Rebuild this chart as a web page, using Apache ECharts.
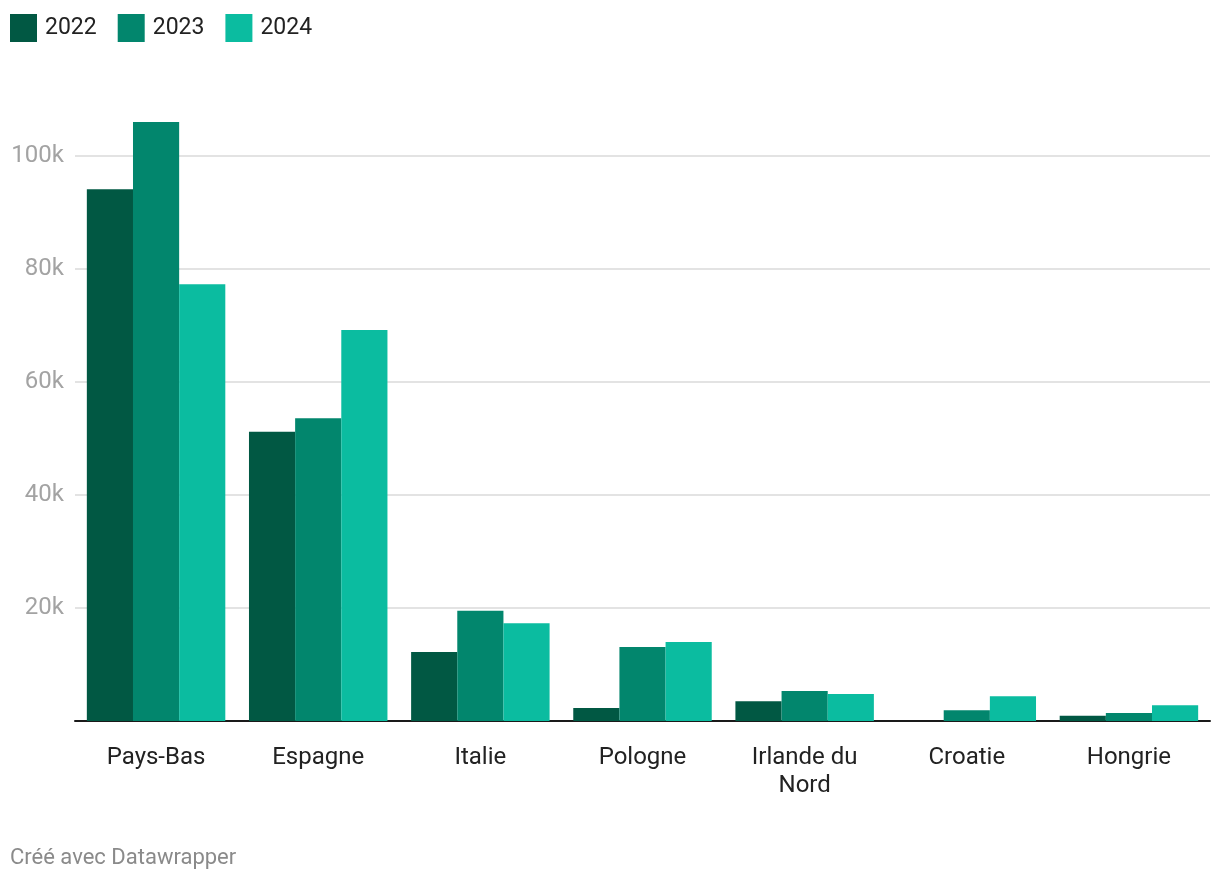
<!DOCTYPE html>
<html>
<head>
<meta charset="utf-8">
<script src="https://cdn.jsdelivr.net/npm/echarts@6/dist/echarts.min.js"></script>
<style>
html,body{margin:0;padding:0;background:#fff;}
#chart{width:1220px;height:882px;}
</style>
</head>
<body>
<div id="chart"></div>
<script>
const categories = ['Pays-Bas', 'Espagne', 'Italie', 'Pologne', 'Irlande du\nNord', 'Croatie', 'Hongrie'];
const years = ['2022', '2023', '2024'];
const values2022 = [94100, 51200, 12200, 2300, 3500, null, 950];
const values2023 = [106000, 53600, 19500, 13100, 5300, 1900, 1400];
const values2024 = [77300, 69200, 17300, 14000, 4800, 4400, 2800];
const yTicks = [0, 20000, 40000, 60000, 80000, 100000];
const colors = ['#015843', '#02866d', '#0bbca0'];

const chart = echarts.init(document.getElementById('chart'));
const font = 'Roboto, "Noto Sans", sans-serif';
const seriesData = [values2022, values2023, values2024];

chart.setOption({
  animation: false,
  textStyle: { fontFamily: font },
  legend: {
    left: 10, top: 14, padding: 0,
    itemWidth: 27, itemHeight: 28, itemGap: 21,
    icon: 'rect',
    textStyle: { fontSize: 23, color: '#222', fontFamily: font, padding: [0, 0, 0, 3] },
    data: years,
    selectedMode: false
  },
  grid: { left: 75, right: 10, top: 156, bottom: 161, containLabel: false },
  xAxis: {
    type: 'category',
    data: categories,
    axisLine: { lineStyle: { color: '#1a1a1a', width: 2 } },
    axisTick: { alignWithLabel: true, length: 9, lineStyle: { color: '#1a1a1a', width: 2 } },
    axisLabel: { fontSize: 24, color: '#222', margin: 23, lineHeight: 28, fontFamily: font }
  },
  yAxis: {
    type: 'value',
    min: yTicks[0], max: yTicks[yTicks.length - 1], interval: 20000,
    axisLine: { show: false },
    axisTick: { show: false },
    splitLine: { lineStyle: { color: '#e3e3e3', width: 2 } },
    axisLabel: {
      fontSize: 24, color: '#a3a3a3', margin: 11, fontFamily: font,
      formatter: v => v === 0 ? '' : (v / 1000) + 'k'
    }
  },
  series: years.map((y, i) => ({
    name: y,
    type: 'bar',
    data: seriesData[i],
    itemStyle: { color: colors[i] },
    barGap: '0%',
    barCategoryGap: '14.6%',
    clip: false,
    z: 3
  })),
  graphic: [{
    type: 'text',
    left: 10, top: 847,
    style: { text: 'Créé avec Datawrapper', fontSize: 22, fill: '#8a8a8a', fontFamily: font }
  }]
});
</script>
</body>
</html>
